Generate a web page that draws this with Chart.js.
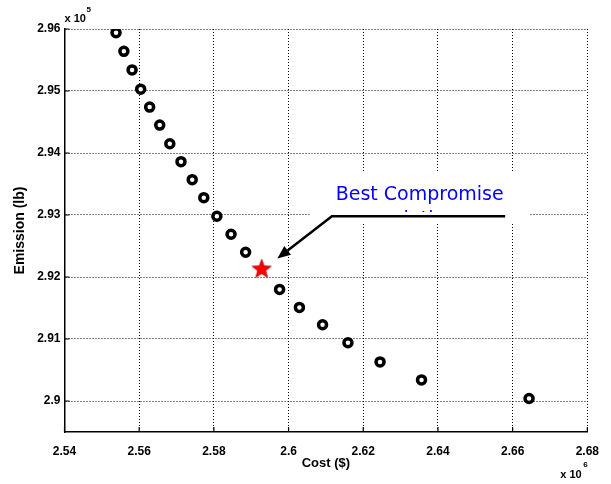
<!DOCTYPE html>
<html>
<head>
<meta charset="utf-8">
<script src="https://cdn.jsdelivr.net/npm/chart.js@4"></script>
<style>
    body { margin: 0; background: #fff; }
    #wrap { width: 611px; height: 484px; position: relative; }
</style>
</head>
<body>
<div id="wrap"><canvas id="paretoChart"></canvas></div>
<script>
// Pareto front, cost in x10^6 $, emission in x10^5 lb
const cost = [2.5538, 2.5559, 2.5581, 2.5604, 2.5628, 2.5655, 2.5682, 2.5712, 2.5742, 2.5773,
    2.5808, 2.5846, 2.5885, 2.5976, 2.6029, 2.6091, 2.6159, 2.6245, 2.6356, 2.6644];
const emission = [2.9594, 2.9564, 2.9534, 2.9503, 2.9474, 2.9445, 2.9415, 2.9386, 2.9357, 2.9328,
    2.9298, 2.9269, 2.9240, 2.9180, 2.9151, 2.9123, 2.9094, 2.9063, 2.9034, 2.9004];
const bestCost = [2.5928];
const bestEmission = [2.9214];

const xTicks = [2.54, 2.56, 2.58, 2.6, 2.62, 2.64, 2.66, 2.68];
const yTicks = [2.9, 2.91, 2.92, 2.93, 2.94, 2.95, 2.96];

// annotation anchors (data units)
const labelText = 'Best Compromise';
const labelHidden = 'solution';
const labelAt = [2.6351, 2.9324];
const labelBox = [2.6057, 2.9369, 2.6645, 2.9288];
const arrowPath = [[2.6580, 2.9298], [2.6116, 2.9298], [2.5970, 2.9230]];

function toPoints(xs, ys) {
    var pts = [];
    for (let i = 0; i < xs.length; i++) {
        pts.push({ x: xs[i], y: ys[i] });
    }
    return pts;
}

function makeStar(r) {
    var c = document.createElement('canvas');
    c.width = r * 2 + 4;
    c.height = r * 2 + 4;
    var ctx = c.getContext('2d');
    var cx = c.width / 2, cy = c.height / 2 + 1;
    ctx.beginPath();
    for (let i = 0; i < 10; i++) {
        var rr = (i % 2 == 0) ? r : r * 0.42;
        var a = -Math.PI / 2 + i * Math.PI / 5;
        var px = cx + rr * Math.cos(a), py = cy + rr * Math.sin(a);
        if (i == 0) ctx.moveTo(px, py); else ctx.lineTo(px, py);
    }
    ctx.closePath();
    ctx.fillStyle = '#ff0000';
    ctx.fill();
    ctx.strokeStyle = '#b00000';
    ctx.lineWidth = 0.8;
    ctx.stroke();
    return c;
}

function tickLabel(v) {
    return String(+Number(v).toFixed(2));
}

const overlay = {
    id: 'overlay',
    afterDraw(chart) {
        const ctx = chart.ctx;
        const xs = chart.scales.x, ys = chart.scales.y;
        const area = chart.chartArea;
        ctx.save();

        // inward tick marks
        ctx.strokeStyle = '#000';
        ctx.lineWidth = 1.2;
        ctx.beginPath();
        xTicks.forEach(function (v) {
            var px = xs.getPixelForValue(v);
            ctx.moveTo(px, area.bottom);
            ctx.lineTo(px, area.bottom - 5);
        });
        yTicks.forEach(function (v) {
            var py = ys.getPixelForValue(v);
            ctx.moveTo(area.left, py);
            ctx.lineTo(area.left + 5, py);
        });
        ctx.stroke();

        // white text box
        var bx0 = xs.getPixelForValue(labelBox[0]), by0 = ys.getPixelForValue(labelBox[1]);
        var bx1 = xs.getPixelForValue(labelBox[2]), by1 = ys.getPixelForValue(labelBox[3]);
        ctx.fillStyle = '#fff';
        ctx.fillRect(bx0, by0, bx1 - bx0, by1 - by0);

        var tx = xs.getPixelForValue(labelAt[0]), ty = ys.getPixelForValue(labelAt[1]);
        ctx.fillStyle = '#0000ff';
        ctx.font = '19px "DejaVu Sans"';
        ctx.textAlign = 'center';
        ctx.textBaseline = 'alphabetic';
        ctx.fillText(labelText, tx, ty);
        // second line is cut off by the box edge, only its top shows
        ctx.save();
        ctx.beginPath();
        ctx.rect(bx0, by0, bx1 - bx0, ty + 12 - by0);
        ctx.clip();
        ctx.fillText(labelHidden, tx, ty + 25);
        ctx.restore();

        // arrow
        var p = arrowPath.map(function (d) {
            return [xs.getPixelForValue(d[0]), ys.getPixelForValue(d[1])];
        });
        ctx.strokeStyle = '#000';
        ctx.lineWidth = 2.5;
        ctx.beginPath();
        ctx.moveTo(p[0][0], p[0][1]);
        ctx.lineTo(p[1][0], p[1][1]);
        var tip = p[2];
        var ang = Math.atan2(tip[1] - p[1][1], tip[0] - p[1][0]);
        var hl = 13, hw = 5.5;
        var bxh = tip[0] - hl * Math.cos(ang), byh = tip[1] - hl * Math.sin(ang);
        ctx.lineTo(bxh, byh);
        ctx.stroke();
        ctx.fillStyle = '#000';
        ctx.beginPath();
        ctx.moveTo(tip[0], tip[1]);
        ctx.lineTo(bxh + hw * Math.sin(ang), byh - hw * Math.cos(ang));
        ctx.lineTo(bxh - hw * Math.sin(ang), byh + hw * Math.cos(ang));
        ctx.closePath();
        ctx.fill();

        // exponent labels
        ctx.fillStyle = '#000';
        ctx.textAlign = 'left';
        ctx.textBaseline = 'middle';
        ctx.font = 'bold 11px "Liberation Sans"';
        ctx.fillText('x 10', area.left, area.top - 10);
        ctx.font = 'bold 8px "Liberation Sans"';
        ctx.fillText('5', area.left + 22, area.top - 19);
        ctx.font = 'bold 11px "Liberation Sans"';
        ctx.fillText('x 10', area.right - 27, area.bottom + 43);
        ctx.font = 'bold 8px "Liberation Sans"';
        ctx.fillText('6', area.right - 4, area.bottom + 33);
        ctx.restore();
    }
};

const gridStyle = {
    color: '#000',
    lineWidth: 1,
    drawTicks: false
};

const borderStyle = {
    display: true,
    color: '#000',
    width: 1.5,
    dash: [1, 2]
};

var ctxS = document.getElementById('paretoChart').getContext('2d');
new Chart(ctxS, {
    type: 'scatter',
    data: {
        datasets: [{
            label: 'Pareto',
            data: toPoints(cost, emission),
            pointStyle: 'circle',
            pointRadius: 4,
            pointBorderWidth: 3.5,
            borderColor: '#000',
            backgroundColor: '#fff',
            pointHoverRadius: 4
        }, {
            label: 'Best',
            data: toPoints(bestCost, bestEmission),
            pointStyle: makeStar(10),
            pointRadius: 10
        }]
    },
    options: {
        responsive: true,
        maintainAspectRatio: false,
        animation: false,
        layout: { padding: { top: 29, right: 17, left: 0, bottom: 0 } },
        plugins: {
            legend: { display: false },
            tooltip: { enabled: false }
        },
        scales: {
            x: {
                type: 'linear',
                min: 2.54,
                max: 2.68,
                afterBuildTicks: function (scale) {
                    scale.ticks = xTicks.map(function (v) { return { value: v }; });
                },
                afterFit: function (scale) { scale.height = 52; },
                grid: gridStyle,
                border: borderStyle,
                ticks: {
                    padding: 12,
                    color: '#000',
                    maxRotation: 0,
                    font: { family: '"Liberation Sans"', size: 12, weight: 'bold' },
                    callback: tickLabel
                },
                title: {
                    display: true,
                    text: 'Cost ($)',
                    color: '#000',
                    font: { family: '"Liberation Sans"', size: 13, weight: 'bold' },
                    padding: { top: 0, bottom: 13 }
                }
            },
            y: {
                type: 'linear',
                min: 2.895,
                max: 2.96,
                afterBuildTicks: function (scale) {
                    scale.ticks = yTicks.map(function (v) { return { value: v }; });
                },
                afterFit: function (scale) { scale.width = 64.5; },
                grid: gridStyle,
                border: borderStyle,
                ticks: {
                    padding: 4,
                    color: '#000',
                    font: { family: '"Liberation Sans"', size: 12, weight: 'bold' },
                    callback: tickLabel
                },
                title: {
                    display: true,
                    text: 'Emission (lb)',
                    color: '#000',
                    font: { family: '"Liberation Sans"', size: 14, weight: 'bold' },
                    padding: { top: 12, bottom: 0 }
                }
            }
        }
    },
    plugins: [overlay]
});
</script>
</body>
</html>
